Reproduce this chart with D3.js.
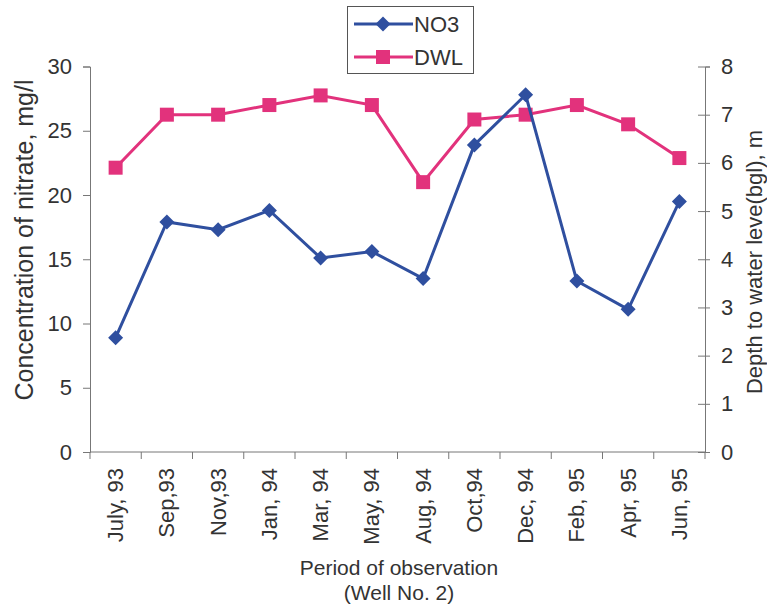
<!DOCTYPE html>
<html>
<head>
<meta charset="utf-8">
<script src="https://cdn.jsdelivr.net/npm/d3@7"></script>
<style>
  html, body { margin: 0; padding: 0; background: #fff; }
  svg text { font-family: "Liberation Sans", Arial, sans-serif; fill: #333; }
</style>
</head>
<body>
<svg id="chart" width="767" height="616"></svg>
<script>
// Observation periods (Well No. 2)
const periods = ["July, 93", "Sep,93", "Nov,93", "Jan, 94", "Mar, 94", "May, 94",
                 "Aug, 94", "Oct,94", "Dec, 94", "Feb, 95", "Apr, 95", "Jun, 95"];
// Nitrate concentration, mg/l (left axis)
const no3 = [8.9, 17.9, 17.3, 18.8, 15.1, 15.6, 13.5, 23.9, 27.8, 13.3, 11.1, 19.5];
// Depth to water level (bgl), m (right axis)
const dwl = [5.9, 7.0, 7.0, 7.2, 7.4, 7.2, 5.6, 6.9, 7.0, 7.2, 6.8, 6.1];
const leftTicks = [0, 5, 10, 15, 20, 25, 30];
const rightTicks = [0, 1, 2, 3, 4, 5, 6, 7, 8];

const blue = "#2f4f9f", pink = "#e2327c", axisCol = "#777";
const font = "Liberation Sans, Arial, sans-serif";
const svg = d3.select("#chart");
const plot = { left: 90, right: 705, top: 66.5, bottom: 452 };

const x = d3.scaleBand().domain(periods).range([plot.left, plot.right]);
const yL = d3.scaleLinear().domain([0, 30]).range([plot.bottom, plot.top]);
const yR = d3.scaleLinear().domain([0, 8]).range([plot.bottom, plot.top]);
const cx = d => x(d) + x.bandwidth() / 2;

// Category axis: boundary ticks and rotated labels
const gx = svg.append("g").attr("transform", `translate(0,${plot.bottom})`);
const bounds = periods.map(p => x(p)).concat([plot.right]);
gx.selectAll("line.b").data(bounds).join("line").attr("class", "b")
  .attr("x1", d => d).attr("x2", d => d).attr("y1", 0).attr("y2", 7)
  .attr("stroke", axisCol);
gx.append("line").attr("x1", plot.left).attr("x2", plot.right)
  .attr("stroke", axisCol);
gx.selectAll("text.lbl").data(periods).join("text").attr("class", "lbl")
  .attr("transform", d => `translate(${cx(d) + 7.5},${16}) rotate(-90)`)
  .attr("text-anchor", "end").attr("font-size", 22).text(d => d);

// Value axes
const gl = svg.append("g").attr("transform", `translate(${plot.left},0)`)
  .call(d3.axisLeft(yL).tickValues(leftTicks).tickSize(7).tickPadding(11));
gl.selectAll("text").attr("font-size", 22).attr("font-family", font).attr("fill", "#333");

const gr = svg.append("g").attr("transform", `translate(${plot.right},0)`)
  .call(d3.axisRight(yR).tickValues(rightTicks).tickSize(5).tickPadding(11));
gr.selectAll(".tick line").attr("x1", -7);
gr.selectAll("text").attr("font-size", 22).attr("font-family", font).attr("fill", "#333");

[gl, gr].forEach(g => {
  g.select(".domain").attr("stroke", axisCol);
  g.selectAll("line").attr("stroke", axisCol);
});

// Axis titles
svg.append("text").attr("transform", `translate(33,240) rotate(-90)`)
  .attr("text-anchor", "middle").attr("font-size", 25).text("Concentration of nitrate, mg/l");
svg.append("text").attr("transform", `translate(762,262) rotate(-90)`)
  .attr("text-anchor", "middle").attr("font-size", 22).text("Depth to water leve(bgl), m");
svg.append("text").attr("x", 399).attr("y", 575).attr("text-anchor", "middle")
  .attr("font-size", 21).text("Period of observation");
svg.append("text").attr("x", 399).attr("y", 600).attr("text-anchor", "middle")
  .attr("font-size", 21).text("(Well No. 2)");

// Marker shapes
const diamond = s => `M0,${-s}L${s},0L0,${s}L${-s},0Z`;
const square = s => `M${-s},${-s}H${s}V${s}H${-s}Z`;

// DWL series
svg.append("path").datum(dwl)
  .attr("d", d3.line().x((d, i) => cx(periods[i])).y(d => yR(d)))
  .attr("fill", "none").attr("stroke", pink).attr("stroke-width", 3);
svg.selectAll("path.sq").data(dwl).join("path").attr("class", "sq")
  .attr("transform", (d, i) => `translate(${cx(periods[i])},${yR(d)})`)
  .attr("d", square(7)).attr("fill", pink);

// NO3 series
svg.append("path").datum(no3)
  .attr("d", d3.line().x((d, i) => cx(periods[i])).y(d => yL(d)))
  .attr("fill", "none").attr("stroke", blue).attr("stroke-width", 3);
svg.selectAll("path.dm").data(no3).join("path").attr("class", "dm")
  .attr("transform", (d, i) => `translate(${cx(periods[i])},${yL(d)})`)
  .attr("d", diamond(7.5)).attr("fill", blue);

// Legend
const lg = svg.append("g");
lg.append("rect").attr("x", 347.5).attr("y", 6.5).attr("width", 126).attr("height", 67)
  .attr("fill", "#fff").attr("stroke", "#555");
const items = [{ name: "NO3", col: blue, shape: diamond(7.5) }, { name: "DWL", col: pink, shape: square(7) }];
items.forEach((it, i) => {
  const yy = 24 + i * 33;
  lg.append("line").attr("x1", 354).attr("x2", 413).attr("y1", yy).attr("y2", yy)
    .attr("stroke", it.col).attr("stroke-width", 3);
  lg.append("path").attr("transform", `translate(383,${yy})`).attr("d", it.shape).attr("fill", it.col);
  lg.append("text").attr("x", 414).attr("y", yy + 8).attr("font-size", 22).text(it.name);
});
</script>
</body>
</html>
